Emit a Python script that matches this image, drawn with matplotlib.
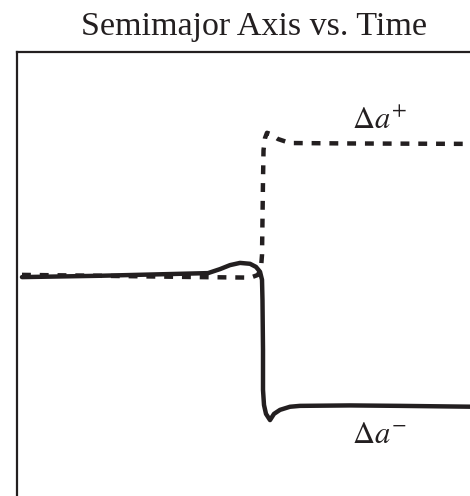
import matplotlib
matplotlib.use("Agg")
import matplotlib.pyplot as plt

# Time (arbitrary units) and semimajor axis for the two outcomes
t_minus = [0.105, 1.751, 4.030, 4.283, 4.494, 4.705, 4.916, 5.042, 5.127,
           5.169, 5.179, 5.190, 5.190, 5.211, 5.253, 5.338, 5.422, 5.549,
           5.759, 5.970, 7.025, 8.080, 9.662]
a_minus = [0.993, 0.996, 1.002, 1.011, 1.020, 1.025, 1.023, 1.016, 1.005,
           0.987, 0.941, 0.829, 0.739, 0.705, 0.685, 0.671, 0.685, 0.694,
           0.701, 0.703, 0.704, 0.703, 0.701]

t_plus = [0.105, 1.751, 3.861, 4.810, 4.958, 5.084, 5.148, 5.169, 5.179,
          5.190, 5.201, 5.232, 5.274, 5.359, 5.506, 5.759, 7.025, 9.662]
a_plus = [0.998, 0.996, 0.993, 0.992, 0.993, 0.998, 1.014, 1.043, 1.122,
          1.212, 1.279, 1.306, 1.318, 1.315, 1.304, 1.295, 1.294, 1.293]

title = "Semimajor Axis vs. Time"
label_plus = r"$\Delta a^{+}$"
label_minus = r"$\Delta a^{-}$"

plt.rcParams["mathtext.fontset"] = "stix"
ink = "#231f20"

W, H = 470, 496
fig = plt.figure(figsize=(W / 100, H / 100), dpi=100)
ax = fig.add_axes([17 / W, 0.0, 474 / W, (H - 52) / H])
ax.set_xlim(0, 10)
ax.set_ylim(0.5, 1.5)

ax.plot(t_minus, a_minus, color=ink, lw=3.2, solid_capstyle="round",
        solid_joinstyle="round")
ax.plot(t_plus, a_plus, color=ink, lw=3.2, linestyle=(0, (2.0, 2.0)),
        dash_capstyle="butt")

ax.text(7.07, 1.327, label_plus, fontsize=22, color=ink, ha="left",
        va="baseline")
ax.text(7.07, 0.619, label_minus, fontsize=22, color=ink, ha="left",
        va="baseline")

ax.set_title(title, fontsize=24.5, family="Liberation Serif", color=ink,
             pad=12)

for side in ("right", "bottom"):
    ax.spines[side].set_visible(False)
for side in ("left", "top"):
    ax.spines[side].set_linewidth(1.6)
    ax.spines[side].set_color(ink)
ax.set_xticks([])
ax.set_yticks([])

fig.savefig("out.png", dpi=100)
